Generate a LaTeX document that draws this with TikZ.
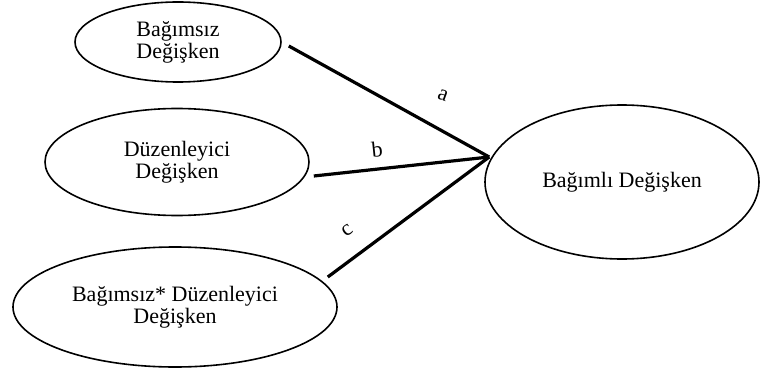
\documentclass[tikz,border=0pt]{standalone}
\usepackage{fontspec}
\setmainfont{Liberation Serif}
\usetikzlibrary{shapes.geometric}

\begin{document}
\begin{tikzpicture}[x=0.5pt, y=-0.5pt,
  var/.style={ellipse, draw, line width=0.8pt, inner sep=0pt, align=center,
    font=\fontsize{11}{8.7}\selectfont},
  link/.style={line width=1.6pt},
  lbl/.style={font=\fontsize{11}{12}\selectfont, inner sep=0pt}]
  \useasboundingbox (0,0) rectangle (760,369);
  \node[var, minimum width=103pt, minimum height=40pt] (iv) at (178,42)
    {Bağımsız\\Değişken};
  \node[var, minimum width=132pt, minimum height=53.5pt] (mod) at (177,162)
    {Düzenleyici\\Değişken};
  \node[var, minimum width=162pt, minimum height=60pt] (int) at (175,307)
    {Bağımsız* Düzenleyici\\Değişken};
  \node[var, minimum width=137pt, minimum height=77pt] (dv) at (622,182)
    {Bağımlı Değişken};
  \coordinate (hub) at ([shift={(5,-25)}]dv.west);
  % paths to the dependent variable
  \draw[link] ([shift={(7,4)}]iv.east) -- (hub);
  \draw[link] ([shift={(4,14)}]mod.east) -- (hub);
  \draw[link] ([shift={(-10,-30)}]int.east) -- (hub);
  \node[lbl, rotate=-20] (la) at (443,95) {a};
  \node[lbl, rotate=6] (lb) at (377,149) {b};
  \node[lbl, rotate=36] (lc) at (347,231) {c};
\end{tikzpicture}
\end{document}
